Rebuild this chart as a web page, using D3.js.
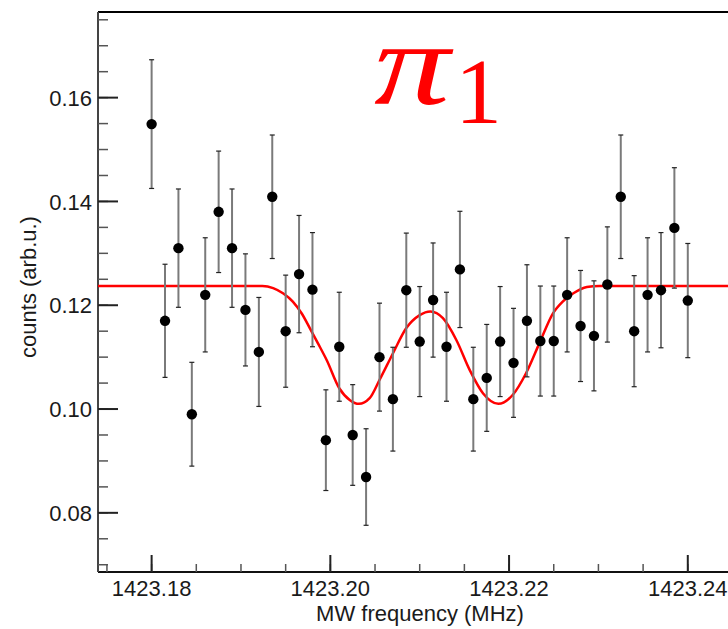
<!DOCTYPE html>
<html>
<head>
<meta charset="utf-8">
<script src="https://cdn.jsdelivr.net/npm/d3@7"></script>
<style>
  body { margin: 0; background: #fff; }
  svg { display: block; }
  text { font-family: "Liberation Sans", Arial, sans-serif; fill: #1a1a1a; }
</style>
</head>
<body>
<div id="chart"></div>
<script>
// measured points (MW frequency in MHz, counts in arb.u.)
const freqs = [
  1423.1800, 1423.1815, 1423.1830, 1423.1845, 1423.1860, 1423.1875, 1423.1890,
  1423.1905, 1423.1920, 1423.1935, 1423.1950, 1423.1965, 1423.1980, 1423.1995,
  1423.2010, 1423.2025, 1423.2040, 1423.2055, 1423.2070, 1423.2085, 1423.2100,
  1423.2115, 1423.2130, 1423.2145, 1423.2160, 1423.2175, 1423.2190, 1423.2205,
  1423.2220, 1423.2235, 1423.2250, 1423.2265, 1423.2280, 1423.2295, 1423.2310,
  1423.2325, 1423.2340, 1423.2355, 1423.2370, 1423.2385, 1423.2400
];
const counts = [
  0.1549, 0.1170, 0.1310, 0.0990, 0.1220, 0.1380, 0.1310,
  0.1191, 0.1110, 0.1409, 0.1150, 0.1260, 0.1230, 0.0940,
  0.1120, 0.0950, 0.0869, 0.1100, 0.1019, 0.1229, 0.1130,
  0.1210, 0.1120, 0.1269, 0.1019, 0.1060, 0.1130, 0.1089,
  0.1170, 0.1131, 0.1131, 0.1220, 0.1160, 0.1141, 0.1240,
  0.1409, 0.1150, 0.1220, 0.1229, 0.1349, 0.1209
];
const errors = [
  0.0124, 0.0109, 0.0114, 0.0100, 0.0110, 0.0117, 0.0114,
  0.0108, 0.0105, 0.0119, 0.0108, 0.0113, 0.0110, 0.0097,
  0.0105, 0.0097, 0.0093, 0.0104, 0.0100, 0.0110, 0.0106,
  0.0110, 0.0105, 0.0112, 0.0100, 0.0103, 0.0106, 0.0105,
  0.0108, 0.0106, 0.0106, 0.0110, 0.0107, 0.0106, 0.0111,
  0.0119, 0.0107, 0.0110, 0.0111, 0.0116, 0.0110
];

// fit curve
const fitFreq = [
  1423.1740, 1423.1924, 1423.1936, 1423.1947, 1423.1958, 1423.1968, 1423.1977,
  1423.1986, 1423.1996, 1423.2010, 1423.2022, 1423.2032, 1423.2044, 1423.2055,
  1423.2070, 1423.2085, 1423.2100, 1423.2112, 1423.2126, 1423.2141, 1423.2156,
  1423.2171, 1423.2188, 1423.2204, 1423.2219, 1423.2234, 1423.2249, 1423.2260,
  1423.2272, 1423.2287, 1423.2301, 1423.2445
];
const fitCounts = [
  0.1237, 0.1237, 0.1233, 0.1223, 0.1207, 0.1184, 0.1156,
  0.1127, 0.1094, 0.1040, 0.1017, 0.1010, 0.1021, 0.1056,
  0.1107, 0.1156, 0.1181, 0.1188, 0.1175, 0.1133, 0.1075,
  0.1030, 0.1010, 0.1027, 0.1069, 0.1127, 0.1184, 0.1207,
  0.1223, 0.1235, 0.1237, 0.1237
];

const xMajor = [1423.18, 1423.20, 1423.22, 1423.24];
const yMajor = [0.08, 0.10, 0.12, 0.14, 0.16];

const W = 728, H = 629;
const svg = d3.select('#chart').append('svg')
  .attr('width', W)
  .attr('height', H);

const x = d3.scaleLinear()
  .domain([1423.174, 1423.2445])
  .range([98, 728]);

const y = d3.scaleLinear()
  .domain([0.0686, 0.1765])
  .range([572, 12]);

// minor ticks every 0.005
const xMinor = d3.range(1423.175, 1423.2446, 0.005);
const yMinor = d3.range(0.07, 0.1766, 0.005);

// frame: left axis, bottom axis, top border
svg.append('line')
  .attr('x1', 98).attr('x2', W)
  .attr('y1', 12).attr('y2', 12)
  .attr('stroke', '#000').attr('stroke-width', 2);

svg.append('line')
  .attr('x1', 98).attr('x2', W)
  .attr('y1', 572).attr('y2', 572)
  .attr('stroke', '#111').attr('stroke-width', 2);

svg.append('line')
  .attr('x1', 98).attr('x2', 98)
  .attr('y1', 12).attr('y2', 572)
  .attr('stroke', '#444').attr('stroke-width', 2);

// y ticks (pointing inward)
svg.selectAll('.ymin')
  .data(yMinor)
  .enter().append('line')
  .attr('x1', 98).attr('x2', 108)
  .attr('y1', d => y(d)).attr('y2', d => y(d))
  .attr('stroke', '#555').attr('stroke-width', 1.5);

svg.selectAll('.ymaj')
  .data(yMajor)
  .enter().append('line')
  .attr('x1', 98).attr('x2', 118)
  .attr('y1', d => y(d)).attr('y2', d => y(d))
  .attr('stroke', '#222').attr('stroke-width', 2);

svg.selectAll('.ylab')
  .data(yMajor)
  .enter().append('text')
  .attr('x', 92)
  .attr('y', d => y(d))
  .attr('dy', '0.37em')
  .attr('text-anchor', 'end')
  .style('font-size', '22px')
  .text(d => d3.format('.2f')(d));

// x ticks
svg.selectAll('.xmin')
  .data(xMinor)
  .enter().append('line')
  .attr('x1', d => x(d)).attr('x2', d => x(d))
  .attr('y1', 572).attr('y2', 564)
  .attr('stroke', '#555').attr('stroke-width', 1.5);

svg.selectAll('.xmaj')
  .data(xMajor)
  .enter().append('line')
  .attr('x1', d => x(d)).attr('x2', d => x(d))
  .attr('y1', 572).attr('y2', 555)
  .attr('stroke', '#222').attr('stroke-width', 2);

svg.selectAll('.xlab')
  .data(xMajor)
  .enter().append('text')
  .attr('x', d => x(d))
  .attr('y', 596)
  .attr('text-anchor', 'middle')
  .style('font-size', '22px')
  .text(d => d3.format('.2f')(d));

// axis titles
svg.append('text')
  .attr('x', 420).attr('y', 621)
  .attr('text-anchor', 'middle')
  .style('font-size', '22px')
  .text('MW frequency (MHz)');

svg.append('text')
  .attr('transform', 'translate(36,287) rotate(-90)')
  .attr('text-anchor', 'middle')
  .style('font-size', '22px')
  .text('counts (arb.u.)');

// fit curve
const fit = fitFreq.map((f, i) => [f, fitCounts[i]]);
svg.append('path')
  .datum(fit)
  .attr('fill', 'none')
  .attr('stroke', '#ff0000')
  .attr('stroke-width', 2.5)
  .attr('d', d3.line()
    .x(d => x(d[0]))
    .y(d => y(d[1]))
    .curve(d3.curveMonotoneX));

// error bars
const pts = freqs.map((f, i) => ({ f: f, c: counts[i], e: errors[i] }));

svg.selectAll('.err')
  .data(pts)
  .enter().append('line')
  .attr('x1', d => x(d.f)).attr('x2', d => x(d.f))
  .attr('y1', d => y(d.c - d.e)).attr('y2', d => y(d.c + d.e))
  .attr('stroke', '#7a7a7a').attr('stroke-width', 2);

svg.selectAll('.capTop')
  .data(pts)
  .enter().append('line')
  .attr('x1', d => x(d.f) - 2.5).attr('x2', d => x(d.f) + 2.5)
  .attr('y1', d => y(d.c + d.e)).attr('y2', d => y(d.c + d.e))
  .attr('stroke', '#222').attr('stroke-width', 1.2);

svg.selectAll('.capBot')
  .data(pts)
  .enter().append('line')
  .attr('x1', d => x(d.f) - 2.5).attr('x2', d => x(d.f) + 2.5)
  .attr('y1', d => y(d.c - d.e)).attr('y2', d => y(d.c - d.e))
  .attr('stroke', '#222').attr('stroke-width', 1.2);

svg.selectAll('.dot')
  .data(pts)
  .enter().append('circle')
  .attr('cx', d => x(d.f))
  .attr('cy', d => y(d.c))
  .attr('r', 5.2)
  .attr('fill', '#000');

// title: pi with subscript 1
svg.append('text')
  .attr('x', 374).attr('y', 104)
  .attr('textLength', 76)
  .attr('lengthAdjust', 'spacingAndGlyphs')
  .style('font-family', '"Liberation Serif", serif')
  .style('font-style', 'italic')
  .style('font-size', '118px')
  .style('fill', '#ff0000')
  .text('π');

svg.append('text')
  .attr('x', 455).attr('y', 123)
  .style('font-family', '"Liberation Serif", serif')
  .style('font-size', '94px')
  .style('fill', '#ff0000')
  .text('1');
</script>
</body>
</html>
